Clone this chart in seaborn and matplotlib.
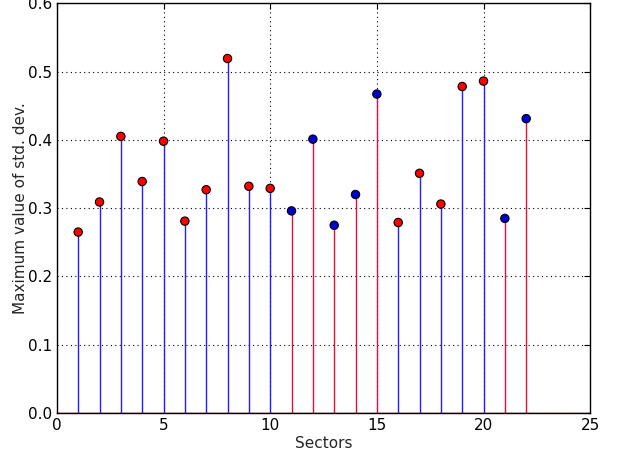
import numpy as np
import pandas as pd
import matplotlib
matplotlib.use("Agg")
import matplotlib.pyplot as plt
import seaborn as sns

sectors = list(range(1, 23))
max_std = [0.265, 0.309, 0.405, 0.339, 0.398, 0.281, 0.327, 0.519, 0.332, 0.329,
           0.296, 0.401, 0.275, 0.320, 0.467, 0.279, 0.351, 0.306, 0.478, 0.486,
           0.285, 0.431]
# group "a": blue stem / red marker, group "b": red stem / blue marker
group = ["a"] * 10 + ["b", "b", "b", "b", "b", "a", "a", "a", "a", "a", "b", "b"]
stem_colors = {"a": "#2020ff", "b": "#e0103a"}
marker_colors = {"a": "#ff0000", "b": "#0000cc"}

df = pd.DataFrame({"sector": sectors, "max_std": max_std, "group": group})

sns.set_style("white")
plt.rcParams["font.family"] = ["DejaVu Sans"]

fig = plt.figure(figsize=(6.18, 4.54), dpi=100)
ax = fig.add_axes([0.092, 0.090, 0.863, 0.903])

for g in ["a", "b"]:
    sub = df[df["group"] == g]
    ax.vlines(sub["sector"], 0, sub["max_std"], colors=stem_colors[g], linewidth=1.0, zorder=2)

ax.axhline(0, color="#c00000", linewidth=1.0, zorder=2)

sns.scatterplot(data=df, x="sector", y="max_std", hue="group", palette=marker_colors,
                s=36, edgecolor="black", linewidth=0.8, legend=False, ax=ax, zorder=3)

ax.set_xlim(0, 25)
ax.set_ylim(0, 0.6)
ax.set_xticks([0, 5, 10, 15, 20, 25])
ax.set_yticks(np.arange(0, 0.61, 0.1))
ax.set_yticklabels([f"{v:.1f}" for v in np.arange(0, 0.61, 0.1)])
ax.grid(True, color="black", linestyle=(0, (1, 3)), linewidth=0.8)
ax.set_axisbelow(True)
ax.tick_params(direction="in", length=4, top=True, right=True, labelsize=11, colors="black")
for s in ax.spines.values():
    s.set_color("black")
    s.set_linewidth(1.0)
ax.set_xlabel("Sectors", fontsize=11, labelpad=2)
ax.set_ylabel("Maximum value of std. dev.", fontsize=11, labelpad=0)

fig.savefig("out.png", dpi=100)
